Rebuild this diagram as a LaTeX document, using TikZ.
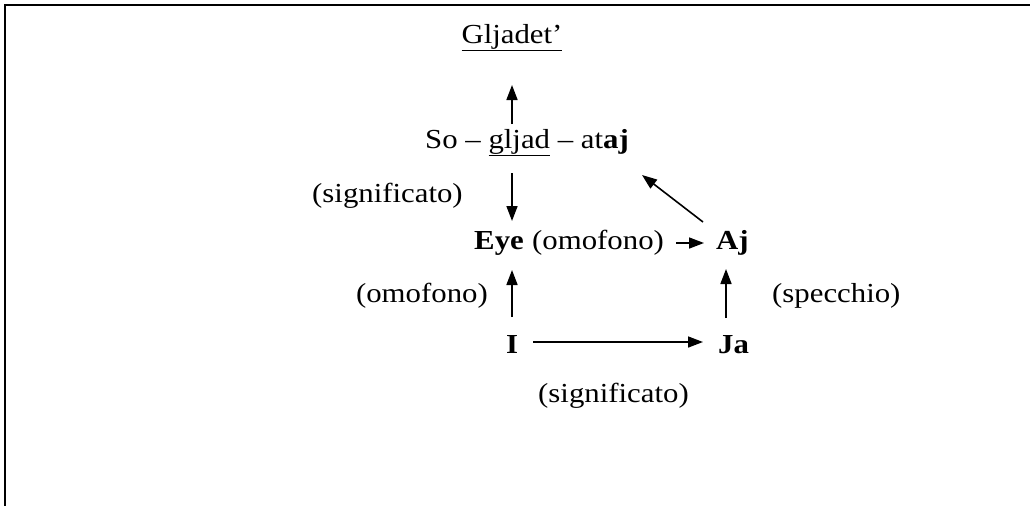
\documentclass[tikz,border=0pt]{standalone}
\usepackage{fontspec}
\setmainfont{Liberation Serif}[FakeStretch=1.12]
\usetikzlibrary{arrows.meta,calc}
\begin{document}
\begin{tikzpicture}[x=1pt,y=-1pt,
  txt/.style={inner sep=0pt, anchor=base west, font=\fontsize{27.5}{32}\selectfont},
  arr/.style={line width=1.6pt, -{Triangle[length=15pt,width=11pt]}}]
\useasboundingbox (0,0) rectangle (1030,506);
\draw[line width=2.5pt] (1030,5) -- (5,5) -- (5,506);
% texts
\node[txt, anchor=base] (gl) at (512,43) {\underline{Gljadet’}};
\node[txt] (so) at (425,148) {So – \underline{gljad} – at\textbf{aj}};
\node[txt] (sig1) at (312,202) {(significato)};
\node[txt] (eye) at (474,249) {\textbf{Eye}};
\node[txt] (om1) at ($(eye.base east)+(8,0)$) {(omofono)};
\node[txt] (aj) at (716,249) {\textbf{Aj}};
\node[txt, anchor=base east] (om2) at (488,302) {(omofono)};
\node[txt] (spec) at (772,302) {(specchio)};
\node[txt, anchor=base] (I) at (512,353) {\textbf{I}};
\node[txt] (ja) at (718,353) {\textbf{Ja}};
\node[txt] (sig2) at (538,402) {(significato)};
% connectors
\draw[arr] ($(so.base -| I)+(0,-24)$) -- ($(gl.base -| I)+(0,42)$);
\draw[arr] ($(so.base -| I)+(0,25)$) -- ($(eye.base -| I)+(0,-28)$);
\draw[arr] ($(I.base)+(0,-36)$) -- ($(eye.base -| I)+(0,21)$);
\draw[arr] ($(I.base)+(21,-11)$) -- ($(ja.base west)+(-15,-11)$);
\draw[arr] ($(ja.base west)+(8,-35)$) -- ($(aj.base west)+(10,20)$);
\draw[arr] ($(om1.base east)+(12,-6)$) -- ($(aj.base west)+(-12,-6)$);
\draw[arr] ($(aj.base west)+(-13,-27)$) -- ($(so.base east)+(13,27)$);
\end{tikzpicture}
\end{document}
